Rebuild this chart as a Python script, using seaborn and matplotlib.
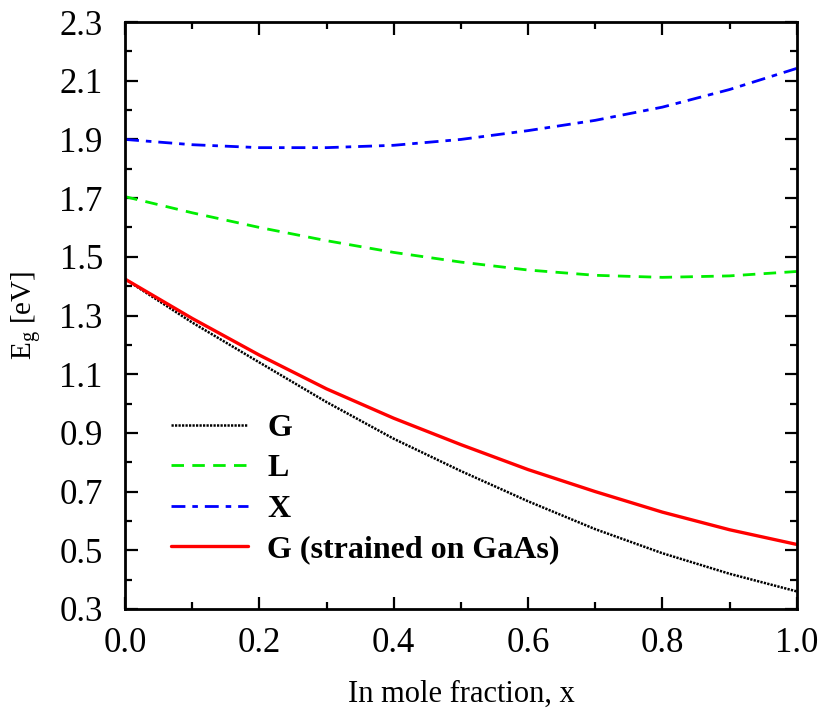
import numpy as np
import pandas as pd
import matplotlib
matplotlib.use("Agg")
import matplotlib.pyplot as plt
from matplotlib.ticker import MultipleLocator
import seaborn as sns

# In mole fraction
x = [0.0, 0.1, 0.2, 0.3, 0.4, 0.5, 0.6, 0.7, 0.8, 0.9, 1.0]

# band gaps [eV]
eg_G = [1.424, 1.276, 1.140, 1.005, 0.880, 0.770, 0.667, 0.572, 0.490, 0.420, 0.360]
eg_L = [1.705, 1.650, 1.600, 1.555, 1.515, 1.482, 1.455, 1.437, 1.430, 1.435, 1.450]
eg_X = [1.900, 1.882, 1.872, 1.872, 1.880, 1.900, 1.930, 1.965, 2.010, 2.070, 2.142]
eg_Gs = [1.424, 1.290, 1.165, 1.050, 0.950, 0.860, 0.775, 0.700, 0.630, 0.570, 0.520]

labels = ["G", "L", "X", "G (strained on GaAs)"]

sns.set_style("ticks")
plt.rcParams['font.family'] = ['Liberation Serif', 'DejaVu Serif']
plt.rcParams['mathtext.fontset'] = 'custom'
plt.rcParams['mathtext.rm'] = 'Liberation Serif'
plt.rcParams['mathtext.it'] = 'Liberation Serif:italic'
plt.rcParams['text.color'] = 'black'
plt.rcParams['axes.labelcolor'] = 'black'
plt.rcParams['xtick.color'] = 'black'
plt.rcParams['ytick.color'] = 'black'
plt.rcParams['axes.edgecolor'] = 'black'

df = pd.DataFrame({
    "x": x * 4,
    "Eg": eg_G + eg_L + eg_X + eg_Gs,
    "band": [b for b in labels for _ in x],
})

fig = plt.figure(figsize=(8.23, 7.11), dpi=100)
ax = fig.add_axes([0.152, 0.1435, 0.816, 0.8255])

palette = {"G": "black", "L": "#00ee00", "X": "#0000ff", "G (strained on GaAs)": "#ff0000"}
dashes = {"G": (0.9, 0.5), "L": (4.5, 3), "X": (5, 2.5, 2, 2.5), "G (strained on GaAs)": ""}
widths = {"G": 1.8, "L": 2.0, "X": 2.0, "G (strained on GaAs)": 2.4}

sns.lineplot(data=df, x="x", y="Eg", hue="band", style="band", palette=palette,
             dashes=dashes, ax=ax, legend=False)
for line, b in zip(ax.get_lines(), labels):
    line.set_linewidth(widths[b])
    line.set_label(b)

ax.set_xlim(0, 1)
ax.set_ylim(0.3, 2.3)
ax.xaxis.set_minor_locator(MultipleLocator(0.1))
ax.yaxis.set_minor_locator(MultipleLocator(0.1))
xt = np.arange(0, 1.01, 0.2)
ax.set_xticks(xt)
ax.set_xticklabels([f"{v:.1f}" for v in xt])
yt = np.arange(0.3, 2.31, 0.2)
ax.set_yticks(yt)
ax.set_yticklabels([f"{v:.1f}" for v in yt])

ax.tick_params(which="both", direction="in", top=True, right=True, width=1.6,
               labelsize=25)
ax.tick_params(axis="x", which="major", pad=13)
ax.tick_params(axis="y", which="major", pad=16)
ax.tick_params(which="major", length=9)
ax.tick_params(which="minor", length=5)
for s in ax.spines.values():
    s.set_linewidth(2)

ax.set_xlabel("In mole fraction, x", fontsize=22, labelpad=14)
ax.set_ylabel(r"E$_\mathrm{g}$ [eV]", fontsize=21, labelpad=12)

leg = ax.legend(loc="lower left", bbox_to_anchor=(0.026, 0.027), frameon=False,
                prop={"weight": "bold", "size": 23}, handlelength=2.4,
                labelspacing=0.35, handletextpad=0.6)

fig.savefig("out.png", dpi=100)
